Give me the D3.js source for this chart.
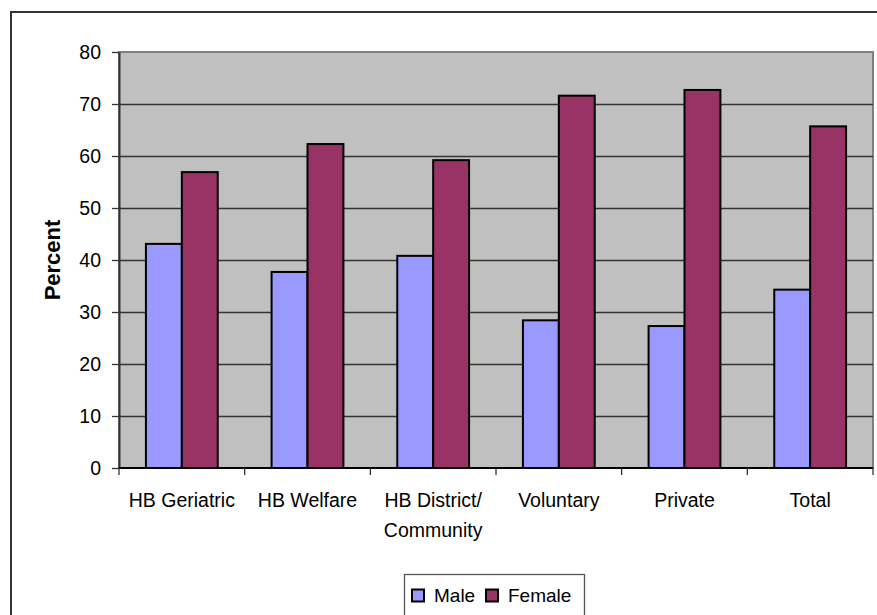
<!DOCTYPE html>
<html>
<head>
<meta charset="utf-8">
<script src="https://cdn.jsdelivr.net/npm/d3@7"></script>
<style>
  body { margin: 0; background: #fff; }
  svg { display: block; font-family: Arial, "Liberation Sans", sans-serif; }
</style>
</head>
<body>
<svg id="chart" width="877" height="615"></svg>
<script>
var categories = [["HB Geriatric"], ["HB Welfare"], ["HB District/", "Community"], ["Voluntary"], ["Private"], ["Total"]];
var series = ["Male", "Female"];
var maleValues = [43.1, 37.7, 40.8, 28.4, 27.3, 34.3];
var femaleValues = [56.9, 62.3, 59.2, 71.6, 72.7, 65.7];
var yTicks = [0, 10, 20, 30, 40, 50, 60, 70, 80];
var colors = ["#9999FF", "#993366"];

var svg = d3.select("#chart");
// note: "top" is a reserved window property, so use plot* names
var plotLeft = 119, plotRight = 873, plotTop = 52, plotBottom = 468;

// outer chart border (runs off the picture at right and bottom)
svg.append("rect")
    .attr("x", 11).attr("y", 12)
    .attr("width", 920).attr("height", 700)
    .attr("fill", "#fff")
    .attr("stroke", "#333").attr("stroke-width", 2);

var x0 = d3.scaleBand()
    .domain(d3.range(categories.length))
    .range([plotLeft, plotRight])
    .paddingInner(0).paddingOuter(0);

var x1 = d3.scaleBand()
    .domain(series)
    .range([0, x0.bandwidth()])
    .paddingOuter(0.75).paddingInner(0);

var y = d3.scaleLinear()
    .domain([0, 80])
    .range([plotBottom, plotTop]);

// plot area
svg.append("rect")
    .attr("x", plotLeft).attr("y", plotTop)
    .attr("width", plotRight - plotLeft).attr("height", plotBottom - plotTop)
    .attr("fill", "#C0C0C0")
    .attr("stroke", "#808080").attr("stroke-width", 2);

// gridlines
svg.append("g")
    .selectAll("line")
    .data(yTicks.filter(function (d) { return d > 0 && d < 80; }))
    .enter()
    .append("line")
    .attr("x1", plotLeft).attr("x2", plotRight)
    .attr("y1", function (d) { return Math.round(y(d)) + 0.5; })
    .attr("y2", function (d) { return Math.round(y(d)) + 0.5; })
    .attr("stroke", "#333").attr("stroke-width", 1.3);

// bars
var rows = categories.map(function (c, i) {
    return [{ s: "Male", v: maleValues[i] }, { s: "Female", v: femaleValues[i] }];
});

svg.append("g")
    .selectAll("g")
    .data(rows)
    .enter()
    .append("g")
    .attr("transform", function (d, i) { return "translate(" + x0(i) + ",0)"; })
    .selectAll("rect")
    .data(function (d) { return d; })
    .enter()
    .append("rect")
    .attr("x", function (d) { return x1(d.s); })
    .attr("y", function (d) { return y(d.v); })
    .attr("width", x1.bandwidth())
    .attr("height", function (d) { return y(0) - y(d.v); })
    .attr("fill", function (d, i) { return colors[i]; })
    .attr("stroke", "#000").attr("stroke-width", 2);

// y axis
var yAxis = svg.append("g")
    .attr("transform", "translate(" + plotLeft + ",0)")
    .call(d3.axisLeft(y).tickValues(yTicks).tickSize(7).tickPadding(11).tickSizeOuter(0));
yAxis.select(".domain").attr("stroke", "#333").attr("stroke-width", 2);
yAxis.selectAll(".tick line").attr("stroke", "#333").attr("stroke-width", 1.3);
yAxis.selectAll(".tick text")
    .attr("fill", "#000")
    .style("font-size", "19.5px")
    .style("font-family", "Arial, 'Liberation Sans', sans-serif");

// x axis: tick marks at category boundaries
var xAxis = svg.append("g");
xAxis.append("line")
    .attr("x1", plotLeft).attr("x2", plotRight)
    .attr("y1", plotBottom).attr("y2", plotBottom)
    .attr("stroke", "#000").attr("stroke-width", 2);
xAxis.selectAll("line.tk")
    .data(d3.range(categories.length + 1))
    .enter()
    .append("line")
    .attr("class", "tk")
    .attr("x1", function (d) { return plotLeft + d * x0.step(); })
    .attr("x2", function (d) { return plotLeft + d * x0.step(); })
    .attr("y1", plotBottom).attr("y2", plotBottom + 7)
    .attr("stroke", "#333").attr("stroke-width", 1.3);

xAxis.selectAll("text")
    .data(categories)
    .enter()
    .append("text")
    .attr("x", function (d, i) { return x0(i) + x0.bandwidth() / 2; })
    .attr("y", 507)
    .attr("text-anchor", "middle")
    .style("font-size", "19.5px")
    .each(function (d) {
        var t = d3.select(this);
        d.forEach(function (line, k) {
            t.append("tspan")
                .attr("x", t.attr("x"))
                .attr("dy", k === 0 ? 0 : 30)
                .text(line);
        });
    });

// y axis title
svg.append("text")
    .attr("transform", "translate(60," + ((plotTop + plotBottom) / 2) + ") rotate(-90)")
    .attr("text-anchor", "middle")
    .style("font-size", "22px")
    .style("font-weight", "bold")
    .text("Percent");

// legend
var legend = svg.append("g");
legend.append("rect")
    .attr("x", 404.5).attr("y", 574.5)
    .attr("width", 180).attr("height", 60)
    .attr("fill", "#fff")
    .attr("stroke", "#555").attr("stroke-width", 1.3);

var legendX = [412, 486];
series.forEach(function (s, i) {
    legend.append("rect")
        .attr("x", legendX[i]).attr("y", 589.5)
        .attr("width", 12).attr("height", 12)
        .attr("fill", colors[i])
        .attr("stroke", "#000").attr("stroke-width", 2);
    legend.append("text")
        .attr("x", legendX[i] + 22).attr("y", 602)
        .style("font-size", "19px")
        .text(s);
});
</script>
</body>
</html>
